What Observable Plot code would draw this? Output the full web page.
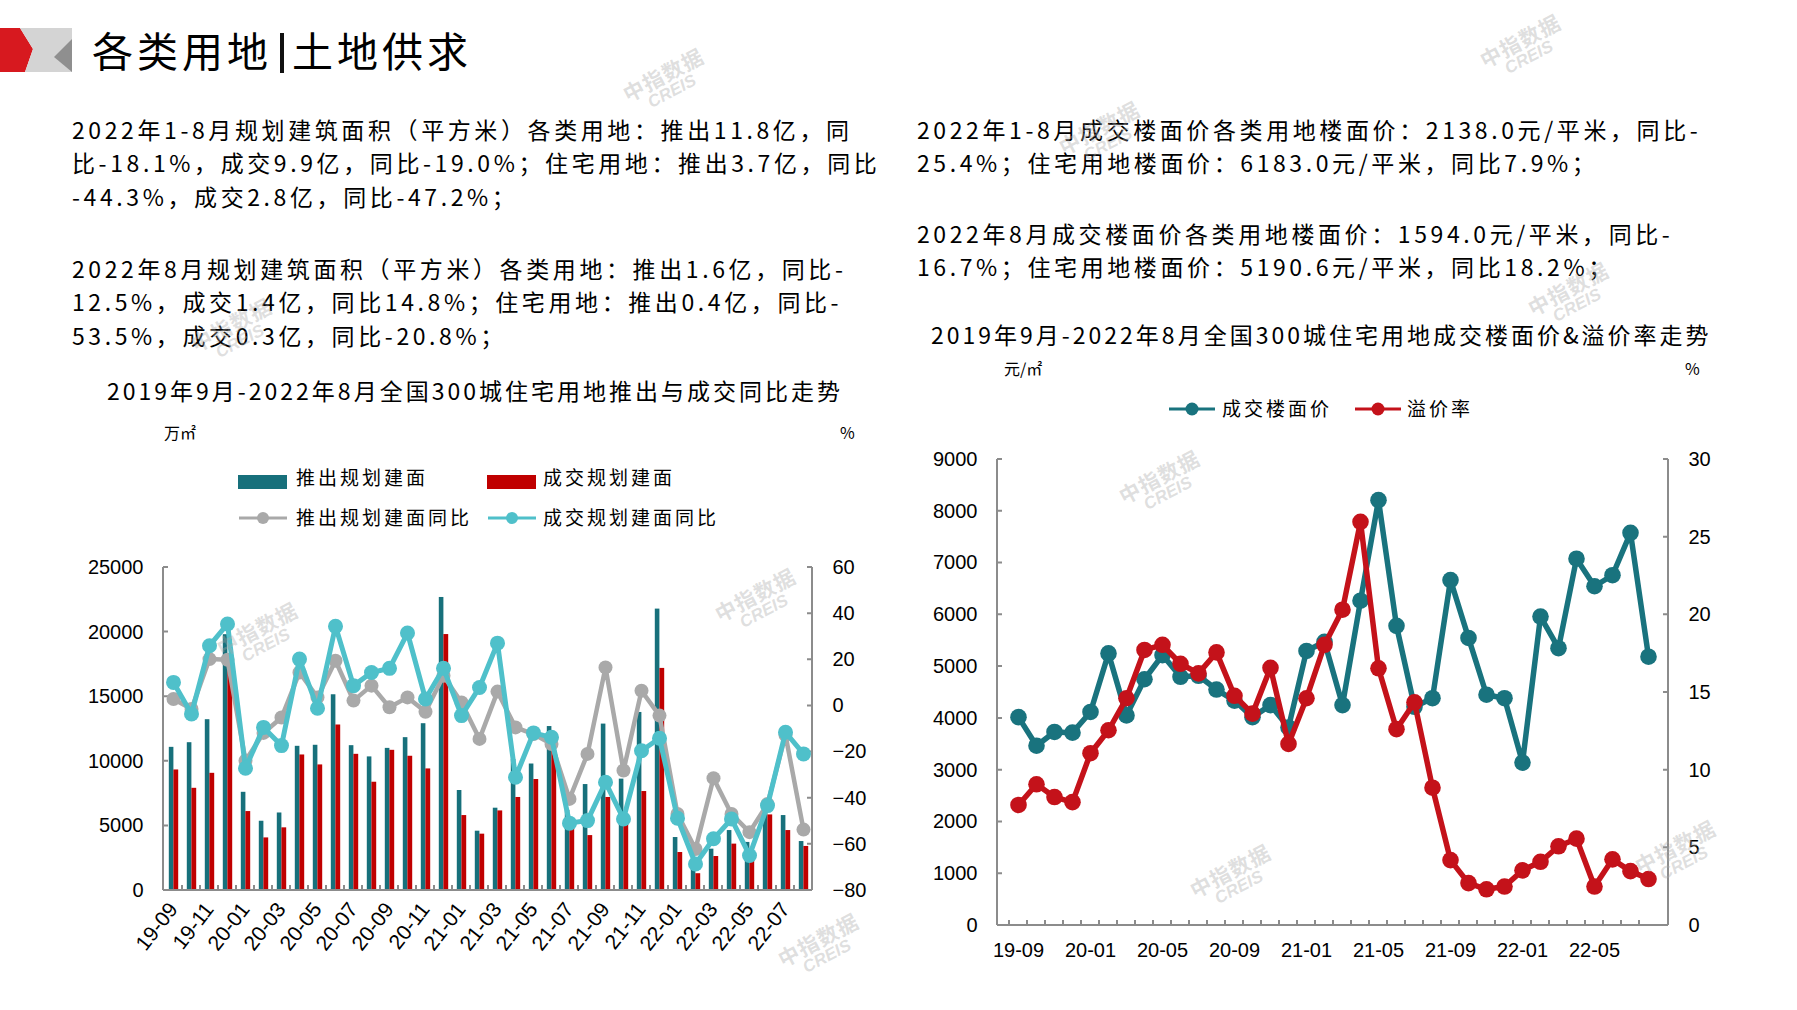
<!DOCTYPE html>
<html>
<head>
<meta charset="utf-8">
<script src="https://cdn.jsdelivr.net/npm/d3@7"></script>
<script src="https://cdn.jsdelivr.net/npm/@observablehq/plot@0.6"></script>
<style>
  html, body { margin: 0; padding: 0; background: #fff; }
  #page { position: relative; width: 1797px; height: 1010px; overflow: hidden; background: #fff;
          font-family: "Noto Sans CJK SC", "Noto Sans", sans-serif; color: #000; }
  .abs { position: absolute; white-space: nowrap; }
  .para { font-size: 23px; line-height: 33.3px; letter-spacing: 3.6px; }
  .ctitle { font-size: 23px; line-height: 24px; letter-spacing: 3px; }
  .unit { font-size: 16px; line-height: 18px; }
  .leg { font-size: 19px; line-height: 24px; letter-spacing: 3px; }
  .wm { position: absolute; transform: translate(-50%, -50%) rotate(-28deg); text-align: center;
        color: rgba(170,170,170,0.38); font-weight: 700; line-height: 1; pointer-events: none; }
  .wm .a { font-size: 21px; letter-spacing: 1px; }
  .wm .b { font-family: "Liberation Sans", Arial, sans-serif; font-size: 17px; font-style: italic; }
  svg.plot { position: absolute; overflow: visible; }
</style>
</head>
<body>
<div id="page"></div>
<script>
// ---------------- DATA ----------------
const months = ["19-09","19-10","19-11","19-12","20-01","20-02","20-03","20-04","20-05","20-06","20-07","20-08",
  "20-09","20-10","20-11","20-12","21-01","21-02","21-03","21-04","21-05","21-06","21-07","21-08",
  "21-09","21-10","21-11","21-12","22-01","22-02","22-03","22-04","22-05","22-06","22-07","22-08"];

// 推出规划建面 (万㎡)
const supplyArea = [11080, 11440, 13220, 19800, 7600, 5360, 6000, 11160, 11240, 15150, 11210, 10340,
  11000, 11830, 12910, 22680, 7740, 4590, 6370, 10140, 9790, 12690, 6200, 8200,
  12880, 8620, 13780, 21780, 4100, 2300, 3200, 4640, 3720, 6200, 5800, 3790];
// 成交规划建面 (万㎡)
const dealArea = [9330, 7910, 9070, 17800, 6110, 4070, 4850, 10490, 9720, 12810, 10540, 8380,
  10850, 10390, 9410, 19810, 5800, 4360, 6160, 7200, 8590, 10800, 5150, 4250,
  7200, 5100, 7660, 17190, 2940, 1300, 2630, 3590, 2600, 5850, 4640, 3410];
// 推出规划建面同比 (%)
const supplyYoY = [3.0, -1.3, 20.3, 20.0, -23.7, -11.7, -5.0, 14.5, 3.7, 19.6, 2.3, 8.8,
  -0.6, 3.7, -2.5, 13.1, 1.5, -14.3, 6.2, -9.3, -12.2, -16.5, -40.3, -20.8,
  16.7, -28.0, 6.6, -4.2, -46.8, -62.0, -31.3, -46.8, -54.7, -42.5, -12.6, -53.6];
// 成交规划建面同比 (%)
const dealYoY = [10.2, -3.5, 26.1, 35.5, -27.0, -9.3, -17.2, 20.3, -1.0, 34.5, 8.8, 14.5,
  16.3, 31.6, 3.0, 16.3, -4.2, 8.0, 27.2, -30.9, -11.7, -13.6, -50.8, -49.7,
  -33.1, -49.0, -19.4, -14.0, -48.7, -68.5, -57.6, -49.0, -64.8, -43.2, -11.4, -20.8];
// 成交楼面价 (元/㎡)
const floorPrice = [4024, 3472, 3738, 3725, 4124, 5255, 4058, 4756, 5222, 4803, 4823, 4557,
  4344, 4024, 4257, 3825, 5302, 5480, 4257, 6273, 8215, 5787, 4224, 4390,
  6672, 5554, 4457, 4390, 3146, 5967, 5355, 7084, 6552, 6765, 7583, 5191];
// 溢价率 (%)
const premiumRate = [7.76, 9.09, 8.27, 7.94, 11.09, 12.57, 14.63, 17.74, 18.07, 16.85, 16.23, 17.58,
  14.79, 13.64, 16.59, 11.69, 14.63, 18.07, 20.33, 25.99, 16.56, 12.64, 14.37, 8.87,
  4.21, 2.73, 2.33, 2.51, 3.55, 4.10, 5.10, 5.59, 2.51, 4.26, 3.50, 2.99];

const areaTicks = [0, 5000, 10000, 15000, 20000, 25000];
const yoyTicks = [-80, -60, -40, -20, 0, 20, 40, 60];
const priceTicks = [0, 1000, 2000, 3000, 4000, 5000, 6000, 7000, 8000, 9000];
const rateTicks = [0, 5, 10, 15, 20, 25, 30];
const leftXLabels = months.filter((_, i) => i % 2 === 0);
const rightXLabels = months.filter((_, i) => i % 4 === 0);

const pageTitleA = "各类用地";
const pageTitleB = "土地供求";
const leftParas = [
  ["2022年1-8月规划建筑面积（平方米）各类用地：推出11.8亿，同",
   "比-18.1%，成交9.9亿，同比-19.0%；住宅用地：推出3.7亿，同比",
   "-44.3%，成交2.8亿，同比-47.2%；"],
  ["2022年8月规划建筑面积（平方米）各类用地：推出1.6亿，同比-",
   "12.5%，成交1.4亿，同比14.8%；住宅用地：推出0.4亿，同比-",
   "53.5%，成交0.3亿，同比-20.8%；"]
];
const rightParas = [
  ["2022年1-8月成交楼面价各类用地楼面价：2138.0元/平米，同比-",
   "25.4%；住宅用地楼面价：6183.0元/平米，同比7.9%；"],
  ["2022年8月成交楼面价各类用地楼面价：1594.0元/平米，同比-",
   "16.7%；住宅用地楼面价：5190.6元/平米，同比18.2%；"]
];
const leftTitle = "2019年9月-2022年8月全国300城住宅用地推出与成交同比走势";
const rightTitle = "2019年9月-2022年8月全国300城住宅用地成交楼面价&溢价率走势";
const leftLegend = ["推出规划建面", "成交规划建面", "推出规划建面同比", "成交规划建面同比"];
const rightLegend = ["成交楼面价", "溢价率"];

// ---------------- STYLE ----------------
const TEAL = "#17707b", RED = "#c00000", GRAY = "#a9a9a9", CYAN = "#4fc0ca";
const TEAL2 = "#19737e", RED2 = "#c4121a";
const AXIS = "#8c8c8c";
const TICK = 5;
const tickFont = { fontFamily: "'Liberation Sans', Arial, sans-serif", fontSize: "20px", color: "#000", background: "transparent", overflow: "visible" };

const page = document.getElementById("page");
function addDiv(cls, left, top, html, extra = "") {
  const d = document.createElement("div");
  d.className = "abs " + cls;
  d.style.cssText = `left:${left}px;top:${top}px;${extra}`;
  d.innerHTML = html;
  page.appendChild(d);
  return d;
}

// ---------------- HEADER ----------------
addDiv("", 0, 28, `<svg width="74" height="44" viewBox="0 0 74 44">
  <polygon points="0,0 20,0 33,21 25,44 0,44" fill="#d7191f"/>
  <polygon points="20,0 72,0 72,44 25,44 33,21" fill="#d4d4d4"/>
  <polygon points="72,11 72,44 54,29" fill="#8f8f8f"/>
</svg>`);
addDiv("", 92, 22, `${pageTitleA}<span style="display:inline-block;width:4px;height:40px;background:#111;margin:0 8px;vertical-align:-6px"></span>${pageTitleB}`,
  "font-size:41px;line-height:54px;letter-spacing:4px;");

leftParas.forEach((p, i) => addDiv("para", 72, [113, 252][i], p.join("<br>")));
rightParas.forEach((p, i) => addDiv("para", 917, [113, 217][i], p.join("<br>")));

addDiv("ctitle", 107, 378, leftTitle);
addDiv("ctitle", 931, 322, rightTitle);
addDiv("unit", 164, 423, "万㎡");
addDiv("unit", 840, 423, "%");
addDiv("unit", 1004, 359, "元/㎡");
addDiv("unit", 1685, 359, "%");

// legends
function rectSw(color) { return `<svg width="49" height="14"><rect width="49" height="14" fill="${color}"/></svg>`; }
function lineSw(color, w, r) { return `<svg width="${w}" height="18"><line x1="0" x2="${w}" y1="9" y2="9" stroke="${color}" stroke-width="3"/><circle cx="${w/2}" cy="9" r="${r}" fill="${color}"/></svg>`; }
addDiv("", 238, 470, rectSw(TEAL));
addDiv("leg", 296, 465, leftLegend[0]);
addDiv("", 487, 470, rectSw(RED));
addDiv("leg", 543, 465, leftLegend[1]);
addDiv("", 239, 508, lineSw(GRAY, 48, 6));
addDiv("leg", 296, 505, leftLegend[2]);
addDiv("", 488, 508, lineSw(CYAN, 48, 6));
addDiv("leg", 543, 505, leftLegend[3]);
addDiv("", 1169, 399, lineSw(TEAL2, 46, 6.5));
addDiv("leg", 1222, 396, rightLegend[0]);
addDiv("", 1355, 399, lineSw(RED2, 46, 6.5));
addDiv("leg", 1407, 396, rightLegend[1]);

// ---------------- CHART HELPERS ----------------
const tableL = months.map((m, i) => ({ month: m, supply: supplyArea[i], deal: dealArea[i], supplyYoY: supplyYoY[i], dealYoY: dealYoY[i] }));
const tableR = months.map((m, i) => ({ month: m, price: floorPrice[i], rate: premiumRate[i] }));

function axisFrame({ side, yTicks, bottom }) {
  return (index, scales, values, dims) => {
    const { x, y } = scales;
    const L = dims.marginLeft, R = dims.width - dims.marginRight, T = dims.marginTop, B = dims.height - dims.marginBottom;
    let d = "";
    if (side === "left") { d += `M${L},${T}V${B}`; yTicks.forEach(v => d += `M${L},${y(v)}h${TICK}`); }
    if (side === "right") { d += `M${R},${T}V${B}`; yTicks.forEach(v => d += `M${R},${y(v)}h${-TICK}`); }
    if (bottom) {
      d += `M${L},${B}H${R}`;
      x.domain().forEach(m => { const xb = x(m); if (xb > L + 1) d += `M${xb},${B}v${-TICK}`; });
    }
    const g = d3.create("svg:g");
    g.append("path").attr("d", d).attr("fill", "none").attr("stroke", AXIS).attr("stroke-width", 2);
    return g.node();
  };
}

function place(svg, left, top) {
  svg.classList.add("plot");
  svg.style.left = left + "px";
  svg.style.top = top + "px";
  page.appendChild(svg);
}

// ---------------- LEFT CHART ----------------
const LW = 800, LH = 460;
const LM = { marginLeft: 103, marginRight: 48, marginTop: 25, marginBottom: 112 };
const leftBase = Plot.plot({
  width: LW, height: LH, ...LM, style: tickFont,
  x: { type: "band", domain: months, padding: 0, axis: null },
  y: { domain: [0, 25000], axis: null },
  marks: [
    Plot.barY(tableL, { x: "month", y: "supply", fill: TEAL, insetLeft: 4.8, insetRight: 8.6 }),
    Plot.barY(tableL, { x: "month", y: "deal", fill: RED, insetLeft: 9.4, insetRight: 3.8 }),
    axisFrame({ side: "left", yTicks: areaTicks, bottom: true }),
    Plot.axisY(areaTicks, { anchor: "left", tickSize: 0, tickPadding: 20, tickFormat: "d", label: null }),
    Plot.axisX(leftXLabels, { anchor: "bottom", tickSize: 0, tickPadding: 15, tickRotate: -52, fontSize: 21, label: null })
  ]
});
place(leftBase, 60, 542);

const leftLines = Plot.plot({
  width: LW, height: LH, ...LM, style: tickFont,
  x: { type: "band", domain: months, padding: 0, axis: null },
  y: { domain: [-80, 60], axis: null },
  marks: [
    axisFrame({ side: "right", yTicks: yoyTicks }),
    Plot.axisY(yoyTicks, { anchor: "right", tickSize: 0, tickPadding: 20, tickFormat: "d", label: null }),
    Plot.line(tableL, { x: "month", y: "supplyYoY", stroke: GRAY, strokeWidth: 4.5, strokeLinejoin: "round" }),
    Plot.dot(tableL, { x: "month", y: "supplyYoY", r: 7, fill: GRAY }),
    Plot.line(tableL, { x: "month", y: "dealYoY", stroke: CYAN, strokeWidth: 5, strokeLinejoin: "round" }),
    Plot.dot(tableL, { x: "month", y: "dealYoY", r: 7.5, fill: CYAN })
  ]
});
place(leftLines, 60, 542);

// ---------------- RIGHT CHART ----------------
const RW = 860, RH = 540;
const RM = { marginLeft: 97, marginRight: 92, marginTop: 29, marginBottom: 45 };
const rightBase = Plot.plot({
  width: RW, height: RH, ...RM, style: tickFont,
  x: { type: "band", domain: months, padding: 0, axis: null },
  y: { domain: [0, 9000], axis: null },
  marks: [
    axisFrame({ side: "left", yTicks: priceTicks, bottom: true }),
    Plot.axisY(priceTicks, { anchor: "left", tickSize: 0, tickPadding: 20, tickFormat: "d", label: null }),
    Plot.axisX(rightXLabels, { anchor: "bottom", tickSize: 0, tickPadding: 17, label: null }),
    Plot.line(tableR, { x: "month", y: "price", stroke: TEAL2, strokeWidth: 5.5, strokeLinejoin: "round" }),
    Plot.dot(tableR, { x: "month", y: "price", r: 8.3, fill: TEAL2 })
  ]
});
place(rightBase, 900, 430);

const rightOver = Plot.plot({
  width: RW, height: RH, ...RM, style: tickFont,
  x: { type: "band", domain: months, padding: 0, axis: null },
  y: { domain: [0, 30], axis: null },
  marks: [
    axisFrame({ side: "right", yTicks: rateTicks }),
    Plot.axisY(rateTicks, { anchor: "right", tickSize: 0, tickPadding: 20, tickFormat: "d", label: null }),
    Plot.line(tableR, { x: "month", y: "rate", stroke: RED2, strokeWidth: 5.5, strokeLinejoin: "round" }),
    Plot.dot(tableR, { x: "month", y: "rate", r: 8.3, fill: RED2 })
  ]
});
place(rightOver, 900, 430);

// ---------------- WATERMARKS ----------------
const wmSpots = [[667, 82], [1524, 48], [1103, 135], [1163, 484], [759, 602], [1572, 296], [261, 636], [822, 947], [1234, 878], [1679, 854], [235, 332]];
wmSpots.forEach(([x, y]) => {
  const d = document.createElement("div");
  d.className = "wm";
  d.style.left = x + "px"; d.style.top = y + "px";
  d.innerHTML = `<div class="a">中指数据</div><div class="b">CREIS</div>`;
  page.appendChild(d);
});
</script>
</body>
</html>
